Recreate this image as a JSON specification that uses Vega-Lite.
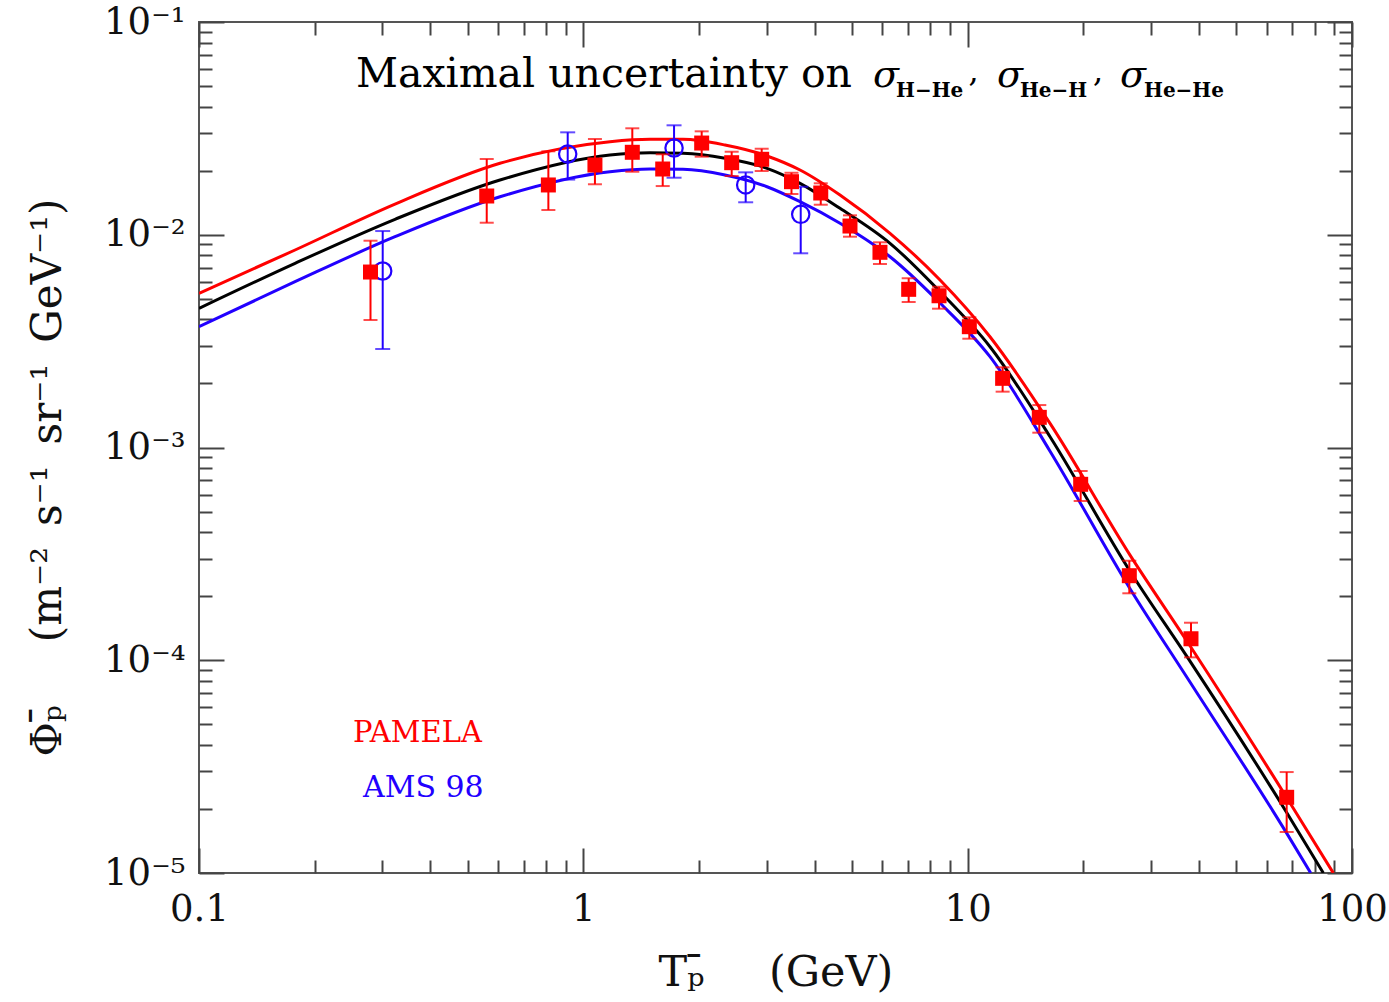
{
  "$schema": "https://vega.github.io/schema/vega-lite/v6.json",
  "width": 1153,
  "height": 851,
  "autosize": {"type": "none"},
  "padding": {"left": 199, "top": 22, "right": 37, "bottom": 129},
  "background": "white",
  "config": {
    "view": {"stroke": "#555555", "strokeWidth": 2},
    "axis": {
      "domain": false,
      "grid": false,
      "tickColor": "#444444",
      "tickWidth": 2,
      "labelFont": "DejaVu Serif",
      "labelColor": "#111111",
      "titleFont": "DejaVu Serif",
      "titleFontWeight": "normal",
      "titleColor": "#111111"
    }
  },
  "datasets": {
    "curves": [
      {"model": "upper", "T": 0.1, "flux": 0.005305},
      {"model": "upper", "T": 0.1778, "flux": 0.008479},
      {"model": "upper", "T": 0.3236, "flux": 0.01394},
      {"model": "upper", "T": 0.6069, "flux": 0.02167},
      {"model": "upper", "T": 1.173, "flux": 0.02737},
      {"model": "upper", "T": 1.491, "flux": 0.02809},
      {"model": "upper", "T": 1.817, "flux": 0.02809},
      {"model": "upper", "T": 2.337, "flux": 0.02641},
      {"model": "upper", "T": 3.005, "flux": 0.02346},
      {"model": "upper", "T": 3.663, "flux": 0.02015},
      {"model": "upper", "T": 4.654, "flux": 0.01537},
      {"model": "upper", "T": 6.28, "flux": 0.01016},
      {"model": "upper", "T": 8.475, "flux": 0.006128},
      {"model": "upper", "T": 11.43, "flux": 0.003317},
      {"model": "upper", "T": 16.38, "flux": 0.001299},
      {"model": "upper", "T": 26.45, "flux": 0.000312},
      {"model": "upper", "T": 37.88, "flux": 0.000117},
      {"model": "upper", "T": 67.73, "flux": 0.00002251},
      {"model": "upper", "T": 89.4, "flux": 0.00001},
      {"model": "central", "T": 0.1, "flux": 0.004511},
      {"model": "central", "T": 0.1778, "flux": 0.007342},
      {"model": "central", "T": 0.3236, "flux": 0.01182},
      {"model": "central", "T": 0.6069, "flux": 0.01809},
      {"model": "central", "T": 1.173, "flux": 0.02371},
      {"model": "central", "T": 1.491, "flux": 0.0243},
      {"model": "central", "T": 1.817, "flux": 0.02415},
      {"model": "central", "T": 2.337, "flux": 0.02288},
      {"model": "central", "T": 3.005, "flux": 0.02053},
      {"model": "central", "T": 3.663, "flux": 0.01745},
      {"model": "central", "T": 4.654, "flux": 0.01331},
      {"model": "central", "T": 6.28, "flux": 0.009117},
      {"model": "central", "T": 8.475, "flux": 0.005398},
      {"model": "central", "T": 11.43, "flux": 0.002977},
      {"model": "central", "T": 16.38, "flux": 0.001124},
      {"model": "central", "T": 26.45, "flux": 0.000262},
      {"model": "central", "T": 37.88, "flux": 0.000099},
      {"model": "central", "T": 67.73, "flux": 0.00001914},
      {"model": "central", "T": 84.22, "flux": 0.00001},
      {"model": "lower", "T": 0.1, "flux": 0.003697},
      {"model": "lower", "T": 0.1778, "flux": 0.006015},
      {"model": "lower", "T": 0.3236, "flux": 0.009791},
      {"model": "lower", "T": 0.6069, "flux": 0.01509},
      {"model": "lower", "T": 1.173, "flux": 0.01978},
      {"model": "lower", "T": 1.491, "flux": 0.02037},
      {"model": "lower", "T": 1.817, "flux": 0.02031},
      {"model": "lower", "T": 2.337, "flux": 0.01909},
      {"model": "lower", "T": 3.005, "flux": 0.01681},
      {"model": "lower", "T": 3.663, "flux": 0.0143},
      {"model": "lower", "T": 4.654, "flux": 0.01132},
      {"model": "lower", "T": 6.28, "flux": 0.007883},
      {"model": "lower", "T": 8.475, "flux": 0.004777},
      {"model": "lower", "T": 11.43, "flux": 0.002672},
      {"model": "lower", "T": 16.38, "flux": 0.000961},
      {"model": "lower", "T": 26.45, "flux": 0.000217},
      {"model": "lower", "T": 37.88, "flux": 0.000079},
      {"model": "lower", "T": 67.73, "flux": 0.00001531},
      {"model": "lower", "T": 78.08, "flux": 0.00001}
    ],
    "pamela": [
      {"T": 0.2794, "flux": 0.00668, "hi": 0.009376, "lo": 0.003975},
      {"T": 0.5606, "flux": 0.01521, "hi": 0.0227, "lo": 0.01139},
      {"T": 0.811, "flux": 0.01714, "hi": 0.02467, "lo": 0.01307},
      {"T": 1.072, "flux": 0.02127, "hi": 0.02818, "lo": 0.01727},
      {"T": 1.341, "flux": 0.02441, "hi": 0.03165, "lo": 0.01978},
      {"T": 1.609, "flux": 0.02037, "hi": 0.02389, "lo": 0.01694},
      {"T": 2.032, "flux": 0.02698, "hi": 0.03063, "lo": 0.02328},
      {"T": 2.432, "flux": 0.02181, "hi": 0.02456, "lo": 0.01888},
      {"T": 2.911, "flux": 0.02263, "hi": 0.02537, "lo": 0.01993},
      {"T": 3.48, "flux": 0.01776, "hi": 0.01956, "lo": 0.01554},
      {"T": 4.147, "flux": 0.01571, "hi": 0.01745, "lo": 0.01384},
      {"T": 4.941, "flux": 0.01099, "hi": 0.01234, "lo": 0.009791},
      {"T": 5.913, "flux": 0.00827, "hi": 0.009214, "lo": 0.007286},
      {"T": 7.023, "flux": 0.005539, "hi": 0.006245, "lo": 0.004829},
      {"T": 8.424, "flux": 0.005167, "hi": 0.005697, "lo": 0.004492},
      {"T": 10.1, "flux": 0.003697, "hi": 0.004092, "lo": 0.003246},
      {"T": 12.33, "flux": 0.002114, "hi": 0.002382, "lo": 0.00183},
      {"T": 15.36, "flux": 0.001386, "hi": 0.001583, "lo": 0.001174},
      {"T": 19.68, "flux": 0.0006714, "hi": 0.0007755, "lo": 0.0005606},
      {"T": 26.34, "flux": 0.0002497, "hi": 0.0002936, "lo": 0.0002064},
      {"T": 38.11, "flux": 0.0001262, "hi": 0.0001501, "lo": 0.0001032},
      {"T": 67.61, "flux": 0.00002269, "hi": 0.00002982, "lo": 0.00001559}
    ],
    "ams": [
      {"T": 0.3006, "flux": 0.006753, "hi": 0.01041, "lo": 0.002904},
      {"T": 0.9106, "flux": 0.02396, "hi": 0.0303, "lo": 0.01817},
      {"T": 1.722, "flux": 0.02557, "hi": 0.03269, "lo": 0.01854},
      {"T": 2.645, "flux": 0.01714, "hi": 0.01965, "lo": 0.01421},
      {"T": 3.678, "flux": 0.01248, "hi": 0.01681, "lo": 0.008181}
    ]
  },
  "layer": [
    {
      "data": {"name": "curves"},
      "mark": {"type": "line", "strokeWidth": 3, "interpolate": "monotone", "clip": true},
      "encoding": {
        "x": {
          "field": "T", "type": "quantitative",
          "scale": {"type": "log", "domain": [0.1, 100], "nice": false},
          "axis": {
            "orient": "bottom",
            "values": [0.1, 0.2, 0.3, 0.4, 0.5, 0.6, 0.7, 0.8, 0.9, 1, 2, 3, 4, 5, 6, 7, 8, 9, 10, 20, 30, 40, 50, 60, 70, 80, 90, 100],
            "labelExpr": "datum.value == 0.1 ? '0.1' : datum.value == 1 ? '1' : datum.value == 10 ? '10' : datum.value == 100 ? '100' : ''",
            "tickSize": {"condition": {"test": "indexof([0.1, 1, 10, 100], datum.value) >= 0", "value": -25}, "value": -13},
            "labelFlush": false,
            "labelOverlap": false,
            "labelFontSize": 37,
            "labelPadding": 43,
            "title": "Tₚ̄\u2003\u2002(GeV)",
            "titleFontSize": 43,
            "titlePadding": 12
          }
        },
        "y": {
          "field": "flux", "type": "quantitative",
          "scale": {"type": "log", "domain": [0.00001, 0.1], "nice": false},
          "axis": {
            "orient": "left",
            "values": [0.00001, 0.00002, 0.00003, 0.00004, 0.00005, 0.00006, 0.00007, 0.00008, 0.00009, 0.0001, 0.0002, 0.0003, 0.0004, 0.0005, 0.0006, 0.0007, 0.0008, 0.0009, 0.001, 0.002, 0.003, 0.004, 0.005, 0.006, 0.007, 0.008, 0.009, 0.01, 0.02, 0.03, 0.04, 0.05, 0.06, 0.07, 0.08, 0.09, 0.1],
            "labelExpr": "datum.value == 0.1 ? '10⁻¹' : datum.value == 0.01 ? '10⁻²' : datum.value == 0.001 ? '10⁻³' : datum.value == 0.0001 ? '10⁻⁴' : datum.value == 0.00001 ? '10⁻⁵' : ''",
            "tickSize": {"condition": {"test": "indexof([0.00001, 0.0001, 0.001, 0.01, 0.1], datum.value) >= 0", "value": -25}, "value": -13},
            "labelOverlap": false,
            "labelFontSize": 37,
            "labelPadding": 39,
            "title": "Φₚ̄\u2003\u2002(m⁻²\u2002s⁻¹\u2002sr⁻¹\u2002GeV⁻¹)",
            "titleFontSize": 42,
            "titlePadding": 34,
            "titleY": 455
          }
        },
        "color": {
          "field": "model", "type": "nominal",
          "scale": {"domain": ["upper", "central", "lower"], "range": ["#ff0000", "#000000", "#2200ff"]},
          "legend": null
        },
        "detail": {"field": "model"}
      }
    },
    {
      "data": {"name": "ams"},
      "mark": {"type": "rule", "color": "#2200ff", "strokeWidth": 2},
      "encoding": {
        "x": {"field": "T", "type": "quantitative", "axis": null},
        "y": {"field": "lo", "type": "quantitative", "axis": null},
        "y2": {"field": "hi"}
      }
    },
    {
      "data": {"name": "ams"},
      "mark": {"type": "tick", "orient": "horizontal", "color": "#2200ff", "size": 15, "thickness": 2},
      "encoding": {
        "x": {"field": "T", "type": "quantitative", "axis": null},
        "y": {"field": "hi", "type": "quantitative", "axis": null}
      }
    },
    {
      "data": {"name": "ams"},
      "mark": {"type": "tick", "orient": "horizontal", "color": "#2200ff", "size": 15, "thickness": 2},
      "encoding": {
        "x": {"field": "T", "type": "quantitative", "axis": null},
        "y": {"field": "lo", "type": "quantitative", "axis": null}
      }
    },
    {
      "data": {"name": "ams"},
      "mark": {"type": "point", "shape": "circle", "filled": false, "color": "#2200ff", "size": 300, "strokeWidth": 2.2, "opacity": 1},
      "encoding": {
        "x": {
          "field": "T", "type": "quantitative",
          "axis": {
            "orient": "top",
            "values": [0.1, 0.2, 0.3, 0.4, 0.5, 0.6, 0.7, 0.8, 0.9, 1, 2, 3, 4, 5, 6, 7, 8, 9, 10, 20, 30, 40, 50, 60, 70, 80, 90, 100],
            "labels": false,
            "title": null,
            "tickSize": {"condition": {"test": "indexof([0.1, 1, 10, 100], datum.value) >= 0", "value": -25}, "value": -13}
          }
        },
        "y": {
          "field": "flux", "type": "quantitative",
          "axis": {
            "orient": "right",
            "values": [0.00001, 0.00002, 0.00003, 0.00004, 0.00005, 0.00006, 0.00007, 0.00008, 0.00009, 0.0001, 0.0002, 0.0003, 0.0004, 0.0005, 0.0006, 0.0007, 0.0008, 0.0009, 0.001, 0.002, 0.003, 0.004, 0.005, 0.006, 0.007, 0.008, 0.009, 0.01, 0.02, 0.03, 0.04, 0.05, 0.06, 0.07, 0.08, 0.09, 0.1],
            "labels": false,
            "title": null,
            "tickSize": {"condition": {"test": "indexof([0.00001, 0.0001, 0.001, 0.01, 0.1], datum.value) >= 0", "value": -25}, "value": -13}
          }
        }
      }
    },
    {
      "data": {"name": "pamela"},
      "mark": {"type": "rule", "color": "#ff0000", "strokeWidth": 2},
      "encoding": {
        "x": {"field": "T", "type": "quantitative", "axis": null},
        "y": {"field": "lo", "type": "quantitative", "axis": null},
        "y2": {"field": "hi"}
      }
    },
    {
      "data": {"name": "pamela"},
      "mark": {"type": "tick", "orient": "horizontal", "color": "#ff0000", "size": 14, "thickness": 2},
      "encoding": {
        "x": {"field": "T", "type": "quantitative", "axis": null},
        "y": {"field": "hi", "type": "quantitative", "axis": null}
      }
    },
    {
      "data": {"name": "pamela"},
      "mark": {"type": "tick", "orient": "horizontal", "color": "#ff0000", "size": 14, "thickness": 2},
      "encoding": {
        "x": {"field": "T", "type": "quantitative", "axis": null},
        "y": {"field": "lo", "type": "quantitative", "axis": null}
      }
    },
    {
      "data": {"name": "pamela"},
      "mark": {"type": "point", "shape": "square", "filled": true, "color": "#ff0000", "size": 225, "opacity": 1},
      "encoding": {
        "x": {"field": "T", "type": "quantitative", "axis": null},
        "y": {"field": "flux", "type": "quantitative", "axis": null}
      }
    },
    {
      "data": {"values": [{"label": "PAMELA", "T": 0.2516, "flux": 0.00004549}]},
      "mark": {"type": "text", "align": "left", "baseline": "middle", "font": "DejaVu Serif", "fontSize": 29, "color": "#ff0000"},
      "encoding": {
        "x": {"field": "T", "type": "quantitative", "axis": null},
        "y": {"field": "flux", "type": "quantitative", "axis": null},
        "text": {"field": "label"}
      }
    },
    {
      "data": {"values": [{"label": "AMS 98", "T": 0.2672, "flux": 0.00002509}]},
      "mark": {"type": "text", "align": "left", "baseline": "middle", "font": "DejaVu Serif", "fontSize": 30, "color": "#2200ff"},
      "encoding": {
        "x": {"field": "T", "type": "quantitative", "axis": null},
        "y": {"field": "flux", "type": "quantitative", "axis": null},
        "text": {"field": "label"}
      }
    },
    {
      "data": {"values": [{"label": "Maximal uncertainty on", "T": 5.0, "flux": 0.04949}]},
      "mark": {"type": "text", "align": "right", "baseline": "alphabetic", "font": "DejaVu Serif", "fontSize": 41, "color": "#000000"},
      "encoding": {
        "x": {"field": "T", "type": "quantitative", "axis": null},
        "y": {"field": "flux", "type": "quantitative", "axis": null},
        "text": {"field": "label"}
      }
    },
    {
      "data": {"values": [
        {"label": "σ", "T": 5.671, "flux": 0.04949},
        {"label": "σ", "T": 11.92, "flux": 0.04949},
        {"label": "σ", "T": 24.91, "flux": 0.04949}
      ]},
      "mark": {"type": "text", "align": "left", "baseline": "alphabetic", "font": "DejaVu Serif", "fontSize": 38, "fontStyle": "italic", "color": "#000000"},
      "encoding": {
        "x": {"field": "T", "type": "quantitative", "axis": null},
        "y": {"field": "flux", "type": "quantitative", "axis": null},
        "text": {"field": "label"}
      }
    },
    {
      "data": {"values": [
        {"label": ",", "T": 10.05, "flux": 0.05224},
        {"label": ",", "T": 21.2, "flux": 0.05224}
      ]},
      "mark": {"type": "text", "align": "left", "baseline": "alphabetic", "font": "DejaVu Serif", "fontSize": 32, "color": "#000000"},
      "encoding": {
        "x": {"field": "T", "type": "quantitative", "axis": null},
        "y": {"field": "flux", "type": "quantitative", "axis": null},
        "text": {"field": "label"}
      }
    },
    {
      "data": {"values": [
        {"label": "H−He", "T": 6.509, "flux": 0.04441},
        {"label": "He−H", "T": 13.68, "flux": 0.04441},
        {"label": "He−He", "T": 28.76, "flux": 0.04441}
      ]},
      "mark": {"type": "text", "align": "left", "baseline": "alphabetic", "font": "DejaVu Serif", "fontSize": 20, "fontWeight": "bold", "color": "#000000"},
      "encoding": {
        "x": {"field": "T", "type": "quantitative", "axis": null},
        "y": {"field": "flux", "type": "quantitative", "axis": null},
        "text": {"field": "label"}
      }
    }
  ],
  "resolve": {"axis": {"x": "independent", "y": "independent"}}
}
